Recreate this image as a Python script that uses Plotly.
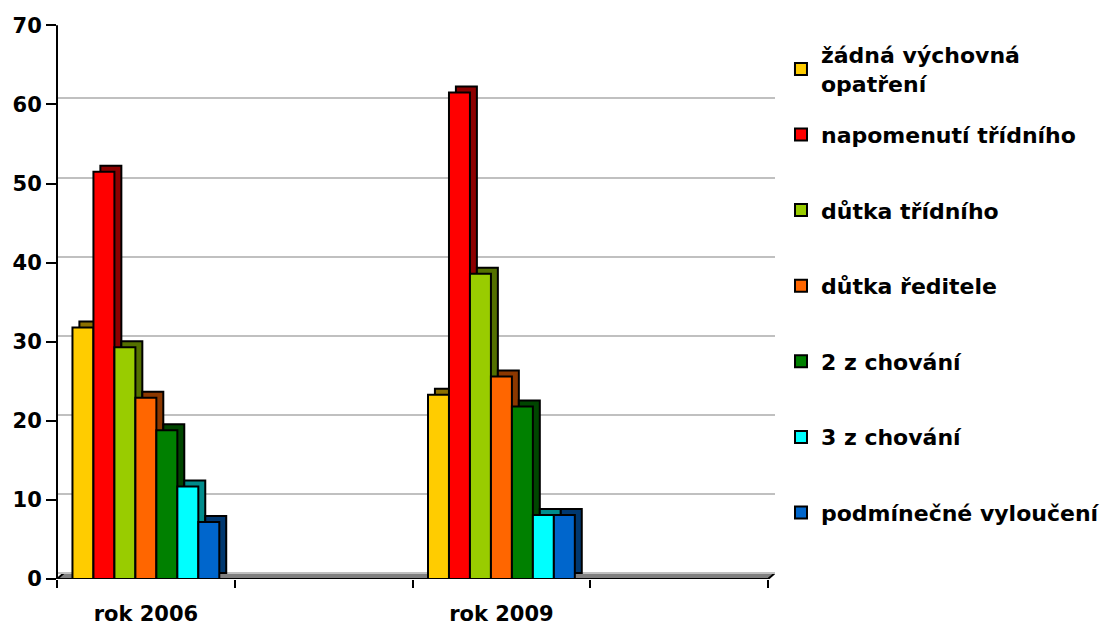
import plotly.graph_objects as go

# ---- data ----
years = ["rok 2006", "rok 2009"]
year_slots = [0, 2]          # category slot of each year (slots 1 and 3 are empty in the original)
n_slots = 4
series = ["žádná výchovná<br>opatření", "napomenutí třídního", "důtka třídního",
          "důtka ředitele", "2 z chování", "3 z chování", "podmínečné vyloučení"]
values_2006 = [31.8, 51.5, 29.3, 22.9, 18.8, 11.7, 7.2]
values_2009 = [23.3, 61.5, 38.6, 25.6, 21.8, 8.1, 8.1]
colors = ["#FFCC00", "#FF0000", "#99CC00", "#FF6600", "#008000", "#00FFFF", "#0066CC"]
y_ticks = [0, 10, 20, 30, 40, 50, 60, 70]

# ---- style ----
FONT = "DejaVu Sans"
W, H = 1109, 618   # page adds an 8px body margin
group_w = 0.826
bar_w = group_w / len(series)
dx = 0.039   # 3D depth (x, category units)
dy = 0.76    # 3D depth (y, value units)
y_max = 70
x_lo, x_hi = -0.5, n_slots - 0.5


def darker(hex_color, f):
    h = hex_color.lstrip("#")
    r, g, b = (int(h[i:i + 2], 16) for i in (0, 2, 4))
    return "rgb(%d,%d,%d)" % (r * f, g * f, b * f)


fig = go.Figure()
for i, (name, col) in enumerate(zip(series, colors)):
    vals = [values_2006[i], values_2009[i]]
    off = -group_w / 2 + i * bar_w
    # depth (side/top) face
    fig.add_trace(go.Bar(
        x=year_slots, y=vals, base=dy, offset=off + dx, width=bar_w,
        marker=dict(color=darker(col, 0.55), line=dict(color="black", width=2)),
        showlegend=False, hoverinfo="skip"))
    # front face
    fig.add_trace(go.Bar(
        x=year_slots, y=vals, offset=off, width=bar_w, name=name,
        legend="legend" if i == 0 else "legend2", legendgroup=name,
        marker=dict(color=col, line=dict(color="black", width=2))))

# floor
fig.add_shape(type="path", xref="x", yref="y", layer="below",
              path="M %f,0 L %f,0 L %f,%f L %f,%f Z" % (x_lo, x_hi, x_hi + dx, dy, x_lo + dx, dy),
              fillcolor="#808080", line=dict(color="black", width=2))
# value axis line (front)
fig.add_shape(type="line", xref="paper", yref="y", x0=0, x1=0, y0=0, y1=y_max,
              line=dict(color="black", width=2))

fig.update_layout(
    width=W, height=H,
    margin=dict(l=49, r=342, t=11, b=47, autoexpand=False),
    paper_bgcolor="white", plot_bgcolor="white",
    barmode="overlay",
    font=dict(family=FONT, size=21, color="black", weight="bold"),
    xaxis=dict(range=[x_lo, x_hi + dx], tickvals=year_slots, ticktext=years,
               ticks="", showgrid=False, zeroline=False, showline=False, automargin=False,
               tickfont=dict(family=FONT, size=21, weight="bold"),
               minor=dict(tickvals=[k - 0.5 for k in range(n_slots + 1)], ticks="outside",
                          ticklen=8, tickwidth=2, tickcolor="black", showgrid=False),
               ticklabelstandoff=20),
    yaxis=dict(range=[0, y_max + dy + 0.04], tickvals=y_ticks, ticks="outside", ticklen=10,
               tickwidth=2, tickcolor="black", showgrid=False, zeroline=False, showline=False,
               automargin=False, ticklabelstandoff=0,
               tickfont=dict(family=FONT, size=21, weight="bold")),
    yaxis2=dict(overlaying="y", range=[-dy, y_max + 0.04], tickvals=y_ticks, automargin=False,
                showticklabels=False, ticks="", showgrid=True, gridcolor="#C0C0C0",
                gridwidth=2, zeroline=False, showline=False),
    legend=dict(xref="container", yref="container", x=0.697, y=0.958,
                xanchor="left", yanchor="top", bgcolor="rgba(0,0,0,0)", maxheight=600,
                font=dict(family=FONT, size=22, weight="bold")),
    legend2=dict(xref="container", yref="container", x=0.697, y=0.829,
                 xanchor="left", yanchor="top", bgcolor="rgba(0,0,0,0)", maxheight=600,
                 traceorder="grouped", tracegroupgap=44,
                 font=dict(family=FONT, size=22, weight="bold")),
)
# make the grid axis exist (invisible helper trace)
fig.add_trace(go.Scatter(x=[None], y=[None], yaxis="y2", showlegend=False, hoverinfo="skip"))

fig.write_html("out.html")
